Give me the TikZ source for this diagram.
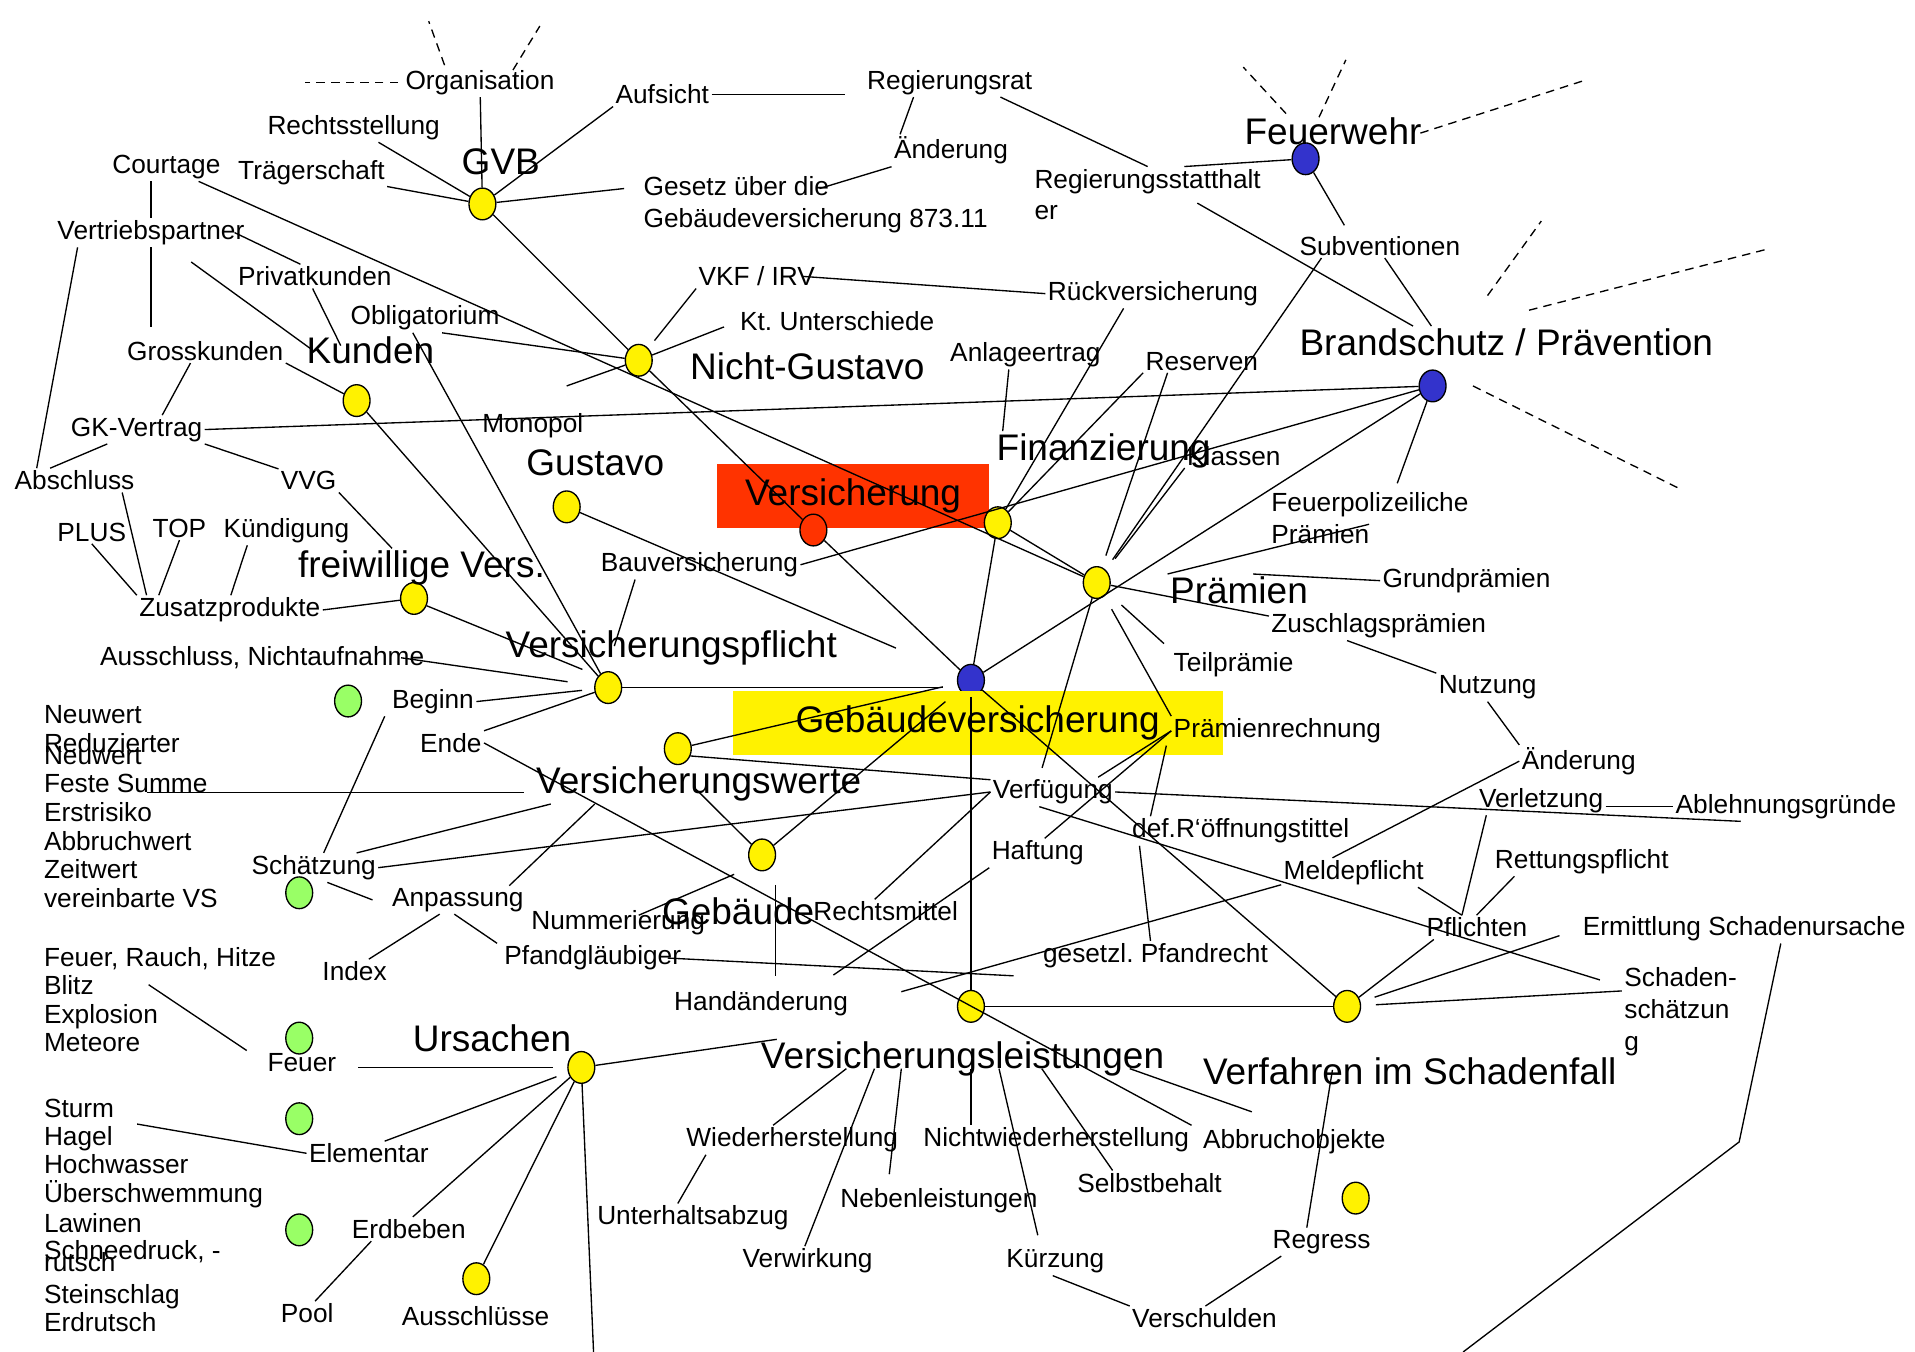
\documentclass[tikz,border=0pt]{standalone}
\usepackage{fontspec}
\setmainfont{Liberation Sans}
\usetikzlibrary{shapes.geometric}
\definecolor{vred}{RGB}{255,51,0}
\definecolor{vblue}{RGB}{51,51,204}
\definecolor{vgreen}{RGB}{153,255,102}
\frenchspacing
\begin{document}
\begin{tikzpicture}[x=1pt, y=-1pt, line width=1.1pt]
\tikzstyle{txt} = [font=\fontsize{21.5}{26}\selectfont, inner sep=1.5pt, anchor=base west]
\tikzstyle{bigtxt} = [txt, font=\fontsize{30.3}{34}\selectfont]
\tikzstyle{blob} = [ellipse, draw, minimum width=22pt, minimum height=26pt, inner sep=0pt]
\tikzstyle{yblob} = [blob, fill=yellow]
\tikzstyle{bblob} = [blob, fill=vblue]
\tikzstyle{rblob} = [blob, fill=vred]
\tikzstyle{gblob} = [blob, fill=vgreen]
\tikzstyle{ray} = [dash pattern=on 7pt off 5pt]
\useasboundingbox (0,0) rectangle (1568,1107);
% blue centre first, the yellow box lies on it
\node[bblob] (gv) at (795,557) {};
\node[bigtxt, anchor=center, fill=vred, minimum width=223pt, minimum height=52pt] (verst) at (698.5,406) {Versicherung};
\node[bigtxt, anchor=center, fill=yellow, minimum width=401pt, minimum height=52pt] (gvt) at (800.5,592) {Gebäudeversicherung};
\node[yblob] (gvb) at (395,167) {};
\node[yblob] (ng) at (523,295) {};
\node[yblob] (kund) at (292,328) {};
\node[yblob] (gust) at (464,415) {};
\node[rblob] (vers) at (666,434) {};
\node[yblob] (fin) at (817,428) {};
\node[yblob] (pr) at (898,477) {};
\node[yblob] (fv) at (339,490) {};
\node[yblob] (vp) at (498,563) {};
\node[yblob] (vw) at (555,613) {};
\node[yblob] (geb) at (624,700) {};
\node[yblob] (vl) at (795,824) {};
\node[yblob] (vf) at (1103,824) {};
\node[yblob] (urs) at (476,874) {};
\node[yblob] (aus) at (390,1047) {};
\node[yblob] (reg) at (1110,981) {};
\node[bblob] (fw) at (1069,130) {};
\node[bblob] (bs) at (1173,316) {};
\node[gblob] (gr1) at (285,574) {};
\node[gblob] (gr2) at (245,731) {};
\node[gblob] (gr3) at (245,850) {};
\node[gblob] (gr4) at (245,916) {};
\node[gblob] (gr5) at (245,1007) {};
% labels
\node[txt] (org) at (330,73) {Organisation};
\node[txt] (aufs) at (502,85) {Aufsicht};
\node[txt] (regrat) at (708,73) {Regierungsrat};
\node[txt] (rechts) at (217,110) {Rechtsstellung};
\node[bigtxt] (gvbt) at (376,143) {GVB};
\node[txt] (court) at (90,142) {Courtage};
\node[txt] (traeg) at (193,147) {Trägerschaft};
\node[txt, align=left] (gesetz) at (525,186) {Gesetz über die\\Gebäudeversicherung 873.11};
\node[txt] (aend1) at (730,130) {Änderung};
\node[txt, align=left] (regst) at (845,180) {Regierungsstatthalt\\er};
\node[bigtxt] (fwt) at (1017,118) {Feuerwehr};
\node[txt] (subv) at (1062,209) {Subventionen};
\node[txt] (vertr) at (45,196) {Vertriebspartner};
\node[txt] (privk) at (193,234) {Privatkunden};
\node[txt] (vkf) at (570,234) {VKF / IRV};
\node[txt] (rueck) at (856,246) {Rückversicherung};
\node[txt] (oblig) at (285,266) {Obligatorium};
\node[txt] (ktu) at (604,271) {Kt. Unterschiede};
\node[txt] (grossk) at (102,295) {Grosskunden};
\node[bigtxt] (kundt) at (249,298) {Kunden};
\node[txt] (anlag) at (776,296) {Anlageertrag};
\node[txt] (reserv) at (936,303) {Reserven};
\node[bigtxt] (ngt) at (563,311) {Nicht-Gustavo};
\node[bigtxt] (bst) at (1062,291) {Brandschutz / Prävention};
\node[txt] (gkv) at (56,357) {GK-Vertrag};
\node[txt] (monop) at (393,354) {Monopol};
\node[bigtxt] (gustt) at (429,389) {Gustavo};
\node[bigtxt] (fint) at (814,377) {Finanzierung};
\node[txt] (klass) at (970,381) {Klassen};
\node[txt] (absch) at (10,401) {Abschluss};
\node[txt] (vvg) at (228,401) {VVG};
\node[txt, align=left] (feupol) at (1039,445) {Feuerpolizeiliche\\Prämien};
\node[txt] (plus) at (45,443) {PLUS};
\node[txt] (topt) at (123,440) {TOP};
\node[txt] (kuend) at (181,440) {Kündigung};
\node[bigtxt] (fvt) at (242,473) {freiwillige Vers.};
\node[txt] (bauv) at (490,468) {Bauversicherung};
\node[txt] (grundp) at (1130,481) {Grundprämien};
\node[bigtxt] (praemt) at (956,494) {Prämien};
\node[txt] (zusatz) at (112,505) {Zusatzprodukte};
\node[txt] (zuschl) at (1039,518) {Zuschlagsprämien};
\node[bigtxt] (vpt) at (412,538) {Versicherungspflicht};
\node[txt] (aussch) at (80,545) {Ausschluss, Nichtaufnahme};
\node[txt] (teilp) at (959,550) {Teilprämie};
\node[txt] (nutz) at (1176,568) {Nutzung};
\node[txt] (beginn) at (319,580) {Beginn};
\node[txt] (neuw) at (34,592) {Neuwert};
\node[txt] (prechn) at (959,604) {Prämienrechnung};
\node[txt] (reduz1) at (34,616) {Reduzierter};
\node[txt] (reduz2) at (34,626) {Neuwert};
\node[txt] (ende) at (342,616) {Ende};
\node[txt] (aend2) at (1244,630) {Änderung};
\node[txt] (feste) at (34,649) {Feste Summe};
\node[bigtxt] (vwt) at (437,650) {Versicherungswerte};
\node[txt] (verfueg) at (811,654) {Verfügung};
\node[txt] (verletz) at (1209,661) {Verletzung};
\node[txt] (ablehn) at (1370,666) {Ablehnungsgründe};
\node[txt] (erst) at (34,673) {Erstrisiko};
\node[txt] (defr) at (925,686) {def.R‘öffnungstittel};
\node[txt] (abbr) at (34,696) {Abbruchwert};
\node[txt] (haft) at (810,704) {Haftung};
\node[txt] (rett) at (1222,711) {Rettungspflicht};
\node[txt] (schaetz) at (204,716) {Schätzung};
\node[txt] (zeitw) at (34,719) {Zeitwert};
\node[txt] (meld) at (1049,720) {Meldepflicht};
\node[txt] (anpass) at (319,742) {Anpassung};
\node[txt] (vereinb) at (34,743) {vereinbarte VS};
\node[txt] (numm) at (433,761) {Nummerierung};
\node[bigtxt] (gebt) at (540,757) {Gebäude};
\node[txt] (rmittel) at (664,754) {Rechtsmittel};
\node[txt] (pflicht) at (1166,767) {Pflichten};
\node[txt] (ermitt) at (1294,766) {Ermittlung Schadenursache};
\node[txt] (feuerl) at (34,791) {Feuer, Rauch, Hitze};
\node[txt] (index) at (262,803) {Index};
\node[txt] (pfandg) at (411,790) {Pfandgläubiger};
\node[txt] (gpfand) at (852,788) {gesetzl. Pfandrecht};
\node[txt, align=left] (schsch) at (1328,860) {Schaden-\\schätzun\\g};
\node[txt] (blitz) at (34,814) {Blitz};
\node[txt] (handae) at (550,827) {Handänderung};
\node[txt] (explo) at (34,838) {Explosion};
\node[txt] (meteo) at (34,861) {Meteore};
\node[bigtxt] (ursat) at (336,861) {Ursachen};
\node[bigtxt] (vlt) at (621,875) {Versicherungsleistungen};
\node[txt] (feuer) at (217,877) {Feuer};
\node[bigtxt] (verft) at (983,888) {Verfahren im Schadenfall};
\node[txt] (sturm) at (34,915) {Sturm};
\node[txt] (hagel) at (34,938) {Hagel};
\node[txt] (hochw) at (34,961) {Hochwasser};
\node[txt] (ueber) at (34,985) {Überschwemmung};
\node[txt] (lawin) at (34,1009) {Lawinen};
\node[txt] (schnee1) at (34,1031) {Schneedruck, -};
\node[txt] (schnee2) at (34,1041) {rutsch};
\node[txt] (stein) at (34,1067) {Steinschlag};
\node[txt] (erdr) at (34,1090) {Erdrutsch};
\node[txt] (elem) at (251,952) {Elementar};
\node[txt] (wieder) at (560,939) {Wiederherstellung};
\node[txt] (nichtw) at (754,939) {Nichtwiederherstellung};
\node[txt] (abbro) at (983,940) {Abbruchobjekte};
\node[txt] (selbst) at (880,976) {Selbstbehalt};
\node[txt] (nebenl) at (686,989) {Nebenleistungen};
\node[txt] (unterh) at (487,1003) {Unterhaltsabzug};
\node[txt] (erdb) at (286,1014) {Erdbeben};
\node[txt] (regress) at (1040,1022) {Regress};
\node[txt] (verwirk) at (606,1038) {Verwirkung};
\node[txt] (kuerz) at (822,1038) {Kürzung};
\node[txt] (pool) at (228,1083) {Pool};
\node[txt] (ausschl) at (327,1085) {Ausschlüsse};
\node[txt] (verschuld) at (925,1087) {Verschulden};
% loose ends
\coordinate (ngstub) at (464,316);
\coordinate (pfend) at (830,799);
\coordinate (meldend) at (738,812);
\coordinate (ebend) at (1424,935);
\coordinate (ebout) at (1198,1107);
\coordinate (ursout) at (486,1107);
% dashed rays
\draw[ray] (org.west) ++(-4,0) -- ++(-76,0);
\draw[ray] (org.north) ++(-29,-2) -- ++(-13,-36);
\draw[ray] (org.north) ++(27,2) -- ++(22,-36);
\draw[ray] (fw) ++(-16,-37) -- ++(-35,-38);
\draw[ray] (fw) ++(11,-34) -- ++(22,-47);
\draw[ray] (fw) ++(94,-21) -- ++(137,-44);
\draw[ray] (bs) ++(45,-74) -- ++(44,-61);
\draw[ray] (bs) ++(79,-62) -- ++(195,-50);
\draw[ray] (bs) ++(33,0) -- ++(169,84);
% GVB
\draw (org) -- (gvb);
\draw (aufs.south west) -- (gvb);
\draw[shorten >=16pt] (aufs.east) -- (aufs.east -| regrat.west);
\draw (rechts) -- (gvb);
\draw (traeg) -- (gvb);
\draw (gvb) -- ([shift={(-14pt,-12pt)}]gesetz.north west);
\draw ([xshift=40pt]regrat.south west) -- ([xshift=7pt]aend1.north west);
\draw (aend1.south west) -- ([shift={(146pt,-12pt)}]gesetz.north west);
\draw ([xshift=-28pt]regrat.south east) -- (regst.north);
\draw ([xshift=30pt]regst.north) -- (fw);
\draw ([shift={(-54pt,-7pt)}]regst.east) -- ([xshift=95pt]bst.north west);
\draw[shorten >=8pt] (fw) -- ([xshift=-25pt]subv.north);
\draw ([xshift=4pt]subv.south) -- ([xshift=110pt]bst.north west);
\draw[shorten >=10pt] ([xshift=20pt]subv.south west) -- (pr);
% Kunden
\draw (court.south -| vertr.north) -- (vertr.north);
\draw[shorten >=10pt] (vertr.south) -- (vertr.south |- grossk.north);
\draw ([xshift=-10pt]vertr.east) -- ([xshift=53pt]privk.north west);
\draw ([shift={(33pt,-12pt)}]vertr.south) -- ([shift={(6pt,-12pt)}]kundt.north west);
\draw ([xshift=63pt]privk.south west) -- ([shift={(30pt,-9pt)}]kundt.north west);
\draw (grossk.south east) -- (kund);
\draw ([xshift=-12pt]grossk.south) -- ([xshift=21pt]gkv.north);
\draw (gkv.east) -- (bs);
\draw ([xshift=-24pt]gkv.south) -- ([xshift=-20pt]absch.north);
\draw ([xshift=-60pt]vertr.south) -- ([xshift=-31pt]absch.north);
\draw (gkv.south east) -- (vvg.north west);
\draw (vvg.south east) -- ([xshift=79pt]fvt.north west);
\draw ([xshift=39pt]absch.south) -- ([xshift=8pt]zusatz.north west);
\draw (plus.south) -- (zusatz.north west);
\draw (topt.south) -- ([xshift=18pt]zusatz.north west);
\draw ([xshift=-32pt]kuend.south) -- ([xshift=77pt]zusatz.north west);
\draw (zusatz.east) -- (fv);
% Versicherungspflicht
\draw[shorten >=14pt] (fv.-30) -- (vp.north west);
\draw[shorten >=22pt] ([xshift=-21pt]aussch.east) -- (vp);
\draw[shorten >=10pt] (beginn.east) -- (vp);
\draw (ende.north east) -- (vp);
\draw (ende.east) -- (nichtw.north east);
\draw[shorten >=11pt] (vp) -- (vp -| gv.west);
\draw ([xshift=30pt]bauv.south west) -- ([shift={(91pt,-15pt)}]vpt.north west);
\draw[shorten >=55pt] (gust) -- (gv);
\draw (kund) -- (vp);
\draw ([xshift=-10pt]oblig.south) -- (vp);
% Nicht-Gustavo
\draw ([xshift=14pt]oblig.south) -- (ng);
\draw (gvb) -- (ng);
\draw[shorten <=8pt] (ng) -- (vkf.south west);
\draw[shorten >=12pt] (ng) -- (ktu.west);
\draw (ng) -- (ngstub);
\draw ([xshift=-12pt]vkf.east) -- (rueck.west);
\draw (court) -- (pr);
\draw (ng) -- (vers);
\draw (vers) -- (gv);
% Finanzierung, Praemien
\draw ([xshift=64pt]rueck.south west) -- (fin);
\draw (reserv.south west) -- (fin);
\draw[shorten >=10pt] ([xshift=20pt]reserv.south west) -- (pr);
\draw ([xshift=50pt]anlag.south west) -- ([xshift=7pt]fint.north west);
\draw[shorten >=12pt] (klass.south west) -- (pr);
\draw (fin) -- (pr);
\draw (fin) -- (gv);
\draw (bs) -- (gv);
\draw (bs) -- (bauv.east);
\draw[shorten >=6pt] (bs) -- ([xshift=103pt]feupol.north west);
\draw (praemt.north west) -- ([shift={(82pt,18pt)}]feupol.south west);
\draw ([xshift=70pt]praemt.north west) -- (grundp.west);
\draw (pr) -- ([yshift=8pt]zuschl.west);
\draw[shorten <=15pt, shorten >=8pt] (pr) -- (teilp.north west);
\draw[shorten <=12pt] (pr) -- (prechn.north west);
\draw[shorten >=8pt] (pr) -- ([xshift=40pt]verfueg.north west);
\draw (prechn.west) -- ([xshift=-14pt]verfueg.north east);
\draw (prechn.west) -- ([xshift=-34pt]haft.north east);
\draw ([xshift=-4pt]prechn.south west) -- ([xshift=17pt]defr.north west);
\draw ([xshift=8pt]defr.south west) -- ([xshift=90pt]gpfand.north west);
% Verfuegung
\draw (verfueg.east) -- ([xshift=-37pt]ablehn.south);
\draw (verletz.east |- ablehn.west) -- (ablehn.west);
\draw (verfueg.west) -- (schaetz.east);
\draw (verfueg.west) -- ([xshift=-9pt]rmittel.north);
\draw ([xshift=40pt]verfueg.south west) -- ([shift={(-18pt,-12pt)}]schsch.north west);
\draw (gv) -- (vf);
\draw (gv) -- (vl);
\draw[shorten >=12pt] (vw) -- (gv);
\draw (vw.-30) -- ([yshift=10pt]verfueg.west);
% Gebaeude
\draw[shorten >=15pt] (geb) -- (gv);
\draw (geb) -- ([shift={(133pt,12pt)}]vwt.south west);
\draw[shorten >=16pt] ([shift={(90pt,-6pt)}]numm.north west) -- (geb.south west);
\draw[shorten <=11pt, shorten >=10pt] ([xshift=11pt]geb.south) -- ([xshift=11pt]geb.south |- handae.north);
\draw (haft.south west) -- ([shift={(-14pt,11pt)}]handae.north east);
\draw ([xshift=-13pt]pfandg.east) -- (pfend);
\draw ([yshift=-10pt]meld.west) -- (meldend);
% Schadenfall
\draw ([xshift=42pt]meld.north west) -- (aend2.west);
\draw ([xshift=42pt]nutz.south west) -- (aend2.north west);
\draw ([xshift=64pt]zuschl.south west) -- (nutz.north west);
\draw ([xshift=8pt]verletz.south west) -- ([xshift=31pt]pflicht.north west);
\draw ([xshift=18pt]rett.south west) -- ([xshift=43pt]pflicht.north west);
\draw ([xshift=112pt]meld.south west) -- ([xshift=31pt]pflicht.north west);
\draw ([xshift=8pt]pflicht.south west) -- (vf);
\draw[shorten <=18pt, shorten >=12pt] (ermitt.west) -- (vf);
\draw[shorten >=12pt] ([yshift=-21pt]schsch.north west) -- (vf);
\draw ([xshift=30pt]ermitt.south) -- (ebend) -- (ebout);
\draw (vl) -- (vf);
% Versicherungsleistungen
\draw (urs) -- ([xshift=15pt]vlt.north west);
\draw ([xshift=72pt]vlt.base west) -- ([xshift=73pt]wieder.north west);
\draw ([xshift=95pt]vlt.base west) -- ([xshift=53pt]verwirk.north west);
\draw[shorten >=10pt] ([xshift=117pt]vlt.base west) -- ([xshift=41pt]nebenl.north west);
\draw (vlt.base -| vl) -- (nichtw.north -| vl);
\draw[shorten >=10pt] ([xshift=197pt]vlt.base west) -- ([xshift=30pt]kuerz.north west);
\draw ([xshift=232pt]vlt.base west) -- ([xshift=31pt]selbst.north west);
\draw ([xshift=304pt]vlt.base west) -- ([shift={(42pt,12pt)}]abbro.north west);
\draw ([xshift=18pt]wieder.south west) -- ([xshift=68pt]unterh.north west);
\draw ([shift={(108pt,12pt)}]verft.base west) -- ([xshift=30pt]regress.north west);
\draw ([xshift=-33pt]regress.south) -- ([xshift=62pt]verschuld.north west);
\draw ([xshift=40pt]kuerz.south west) -- (verschuld.north west);
% Ursachen
\draw[shorten <=16pt, shorten >=12pt] (feuer.east |- urs) -- (urs);
\draw[shorten >=10pt] ([xshift=64pt]elem.north west) -- (urs);
\draw ([xshift=52pt]erdb.north west) -- (urs);
\draw (urs) -- (aus);
\draw (urs) -- (ursout);
\draw ([xshift=43pt]blitz.east) -- ([xshift=-15pt]feuer.north west);
\draw ([xshift=18pt]hagel.north east) -- (elem.west);
\draw ([xshift=18pt]erdb.south west) -- ([xshift=30pt]pool.north west);
% Versicherungswerte
\draw ([xshift=-4pt]beginn.south west) -- ([xshift=61pt]schaetz.north west);
\draw ([xshift=88pt]schaetz.north west) -- ([xshift=14pt]vwt.south west);
\draw[shorten >=8pt] ([xshift=86pt]feste.base west) -- (feste.base west -| vwt.base west);
\draw ([xshift=98pt]anpass.north west) -- ([xshift=50pt]vwt.south west);
\draw ([xshift=64pt]schaetz.south west) -- ([xshift=-14pt]anpass.west);
\draw ([xshift=41pt]anpass.south west) -- ([xshift=40pt]index.north west);
\draw ([xshift=53pt]anpass.south west) -- ([xshift=-4pt]pfandg.north west);
\end{tikzpicture}
\end{document}
